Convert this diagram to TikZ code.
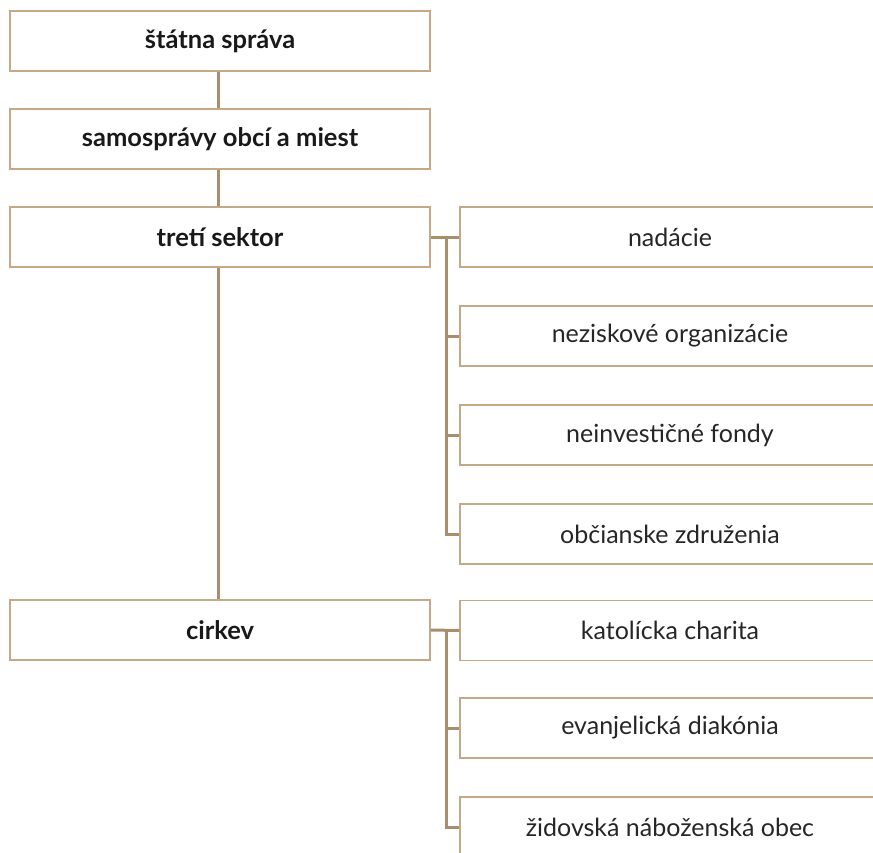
\documentclass[tikz,border=0pt]{standalone}
\usepackage{fontspec}
\setmainfont{Lato}
\definecolor{boxline}{HTML}{C4A888}
\definecolor{connline}{HTML}{A98E6E}
\begin{document}
\begin{tikzpicture}[x=1pt,y=-1pt,
  leftbox/.style={draw=boxline,line width=1.3pt,fill=white,minimum width=420pt,minimum height=60pt,inner sep=0pt,font=\fontsize{25.5}{28}\selectfont\bfseries,text=black!90},
  rightbox/.style={draw=boxline,line width=1.3pt,fill=white,minimum width=420pt,minimum height=60pt,inner sep=0pt,font=\fontsize{25}{28}\selectfont,text=black!85},
  conn/.style={draw=connline,line width=3pt}]
\useasboundingbox (0,0) rectangle (873,852);
\clip (0,0) rectangle (873,852);
\node[leftbox] (s) at (220,41) {štátna správa};
\node[leftbox] (m) at (220,139) {samosprávy obcí a miest};
\node[leftbox] (t) at (220,237) {tretí sektor};
\node[leftbox] (c) at (220,630) {cirkev};
\node[rightbox] (n1) at (670,237) {nadácie};
\node[rightbox] (n2) at (670,336) {neziskové organizácie};
\node[rightbox] (n3) at (670,435) {neinvestičné fondy};
\node[rightbox] (n4) at (670,534) {občianske združenia};
\node[rightbox] (k1) at (670,630.5) {katolícka charita};
\node[rightbox] (k2) at (670,728) {evanjelická diakónia};
\node[rightbox] (k3) at (670,827) {židovská náboženská obec};
\coordinate (bt) at (446.5,237);
\coordinate (bc) at (446.5,630.5);
\draw[conn] ([xshift=-2pt]s.south) -- ([xshift=-2pt]m.north);
\draw[conn] ([xshift=-2pt]m.south) -- ([xshift=-2pt]t.north);
\draw[conn] ([xshift=-2pt]t.south) -- ([xshift=-2pt]c.north);
\draw[conn] (t.east) -- (n1.west);
\draw[conn] (bt) |- (n4.west);
\draw[conn] (bt|-n2.west) -- (n2.west);
\draw[conn] (bt|-n3.west) -- (n3.west);
\draw[conn] (c.east) -- (k1.west);
\draw[conn] (bc) |- (k3.west);
\draw[conn] (bc|-k2.west) -- (k2.west);
\end{tikzpicture}
\end{document}
